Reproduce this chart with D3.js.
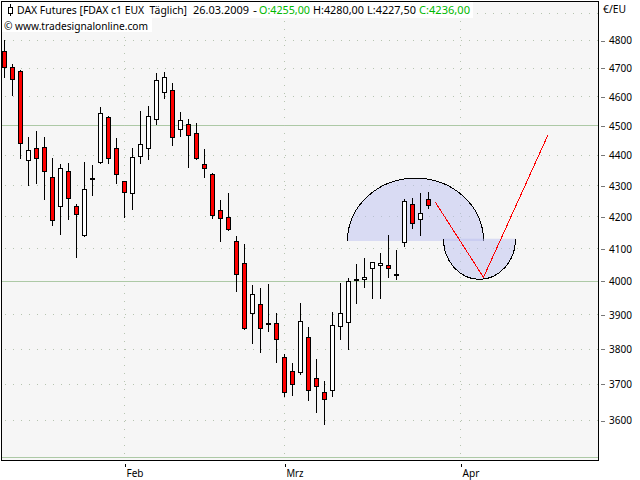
<!DOCTYPE html>
<html><head><meta charset="utf-8">
<script src="https://cdn.jsdelivr.net/npm/d3@7/dist/d3.min.js"></script>
<style>
html,body{margin:0;padding:0;background:#fff;overflow:hidden}
svg{display:block}
text{font-family:"Noto Sans",sans-serif;font-size:10.7px;fill:#000}
</style></head><body>
<script>
// Daily candles, Jan 12 2009 .. Mar 26 2009
const opens  = [4760,4703,4689,4383,4423,4427,4327,4233,4347,4233,4142,4325,4377,4528,4423,4314,4275,4396,4423,4522,4615,4622,4488,4504,4474,4370,4337,4220,4198,4123,4055,3904,3931,3873,3875,3776,3736,3733,3834,3716,3677,3683,3866,3877,4007,4006,4039,4048,4048,4022,4120,4240,4192,4255];
const highs  = [4805,4717,4696,4464,4484,4464,4393,4373,4377,4243,4380,4370,4566,4535,4460,4317,4427,4553,4570,4685,4689,4650,4549,4525,4511,4423,4344,4256,4278,4142,4116,3990,3981,3993,3907,3788,3762,3937,3866,3774,3711,3910,3996,4012,4055,4073,4058,4088,4145,4098,4259,4262,4278,4280];
const lows   = [4668,4604,4390,4301,4308,4256,4173,4145,4192,4073,4139,4269,4373,4373,4307,4198,4223,4373,4387,4504,4594,4433,4464,4360,4387,4327,4195,4123,4157,3970,3857,3816,3790,3851,3762,3666,3669,3728,3655,3622,3589,3666,3828,3799,3934,3982,3949,3949,4012,4006,4107,4164,4142,4227.5];
const closes = [4703,4661,4440,4417,4390,4347,4189,4357,4259,4208,4288,4323,4542,4390,4337,4278,4393,4437,4532,4657,4668,4460,4518,4467,4390,4357,4204,4195,4160,4021,3860,3960,3860,3871,3828,3677,3699,3881,3683,3694,3658,3869,3904,3999,4005,4012,4058,4055,4039,4020,4249,4179,4211,4236];
const priceTicks = [4900,4800,4700,4600,4500,4400,4300,4200,4100,4000,3900,3800,3700,3600,3500];
const axisLabels = [4800,4700,4600,4500,4400,4300,4200,4100,4000,3900,3800,3700,3600];
const solidLevels = [4500,4000,3500];
const monthIndex = [15,35,57];
const monthNames = ["Feb","Mrz","Apr"];
// Drawing objects (bar index, price)
const upperArc = {from:42.875,to:59.875,base:4124,peak:4325};
const lowerArc = {from:54.875,to:63.875,base:4131,peak:4006};
const zigzagIdx = [53.875,59.875,67.95];
const zigzagPrice = [4246,4012,4470];
// Header texts
const headerTexts = ["DAX Futures [FDAX c1 EUX  Täglich]","26.03.2009","-","O:4255,00","H:4280,00","L:4227,50","C:4236,00"];
const headerColors = ["#000","#000","#000","#00b800","#000","#000","#00b800"];
const headerX = [17,193,253,259,313,367,419];
const headerLen = [170,56,4,51,51,49,51];

const W=640,H=480;
const x=d3.scaleLinear().domain([0,74]).range([4.5,596.5]);
const y=d3.scaleLog().domain([3600,4800]).range([420.5,40.5]);
const py=v=>Math.round(y(v)-0.5)+0.5;
const svg=d3.select("body").append("svg").attr("width",W).attr("height",H);
const L=1.5,T=1.5,R=598.5,B=460.5;
svg.append("rect").attr("x",L).attr("y",T).attr("width",R-L).attr("height",B-T).attr("fill","#f6f6f6");

// Grid
const g=svg.append("g");
g.selectAll("line.h").data(priceTicks).join("line").attr("class","h")
 .attr("x1",d=>solidLevels.includes(d)?L:L+3).attr("x2",R).attr("y1",d=>py(d)).attr("y2",d=>py(d))
 .attr("stroke",d=>solidLevels.includes(d)?"#adc9a6":"#b6c4b0")
 .attr("stroke-dasharray",d=>solidLevels.includes(d)?null:"1 7")
 .attr("shape-rendering","crispEdges");
g.selectAll("line.v").data(monthIndex).join("line").attr("class","v")
 .attr("x1",d=>x(d)).attr("x2",d=>x(d)).attr("y1",T+3).attr("y2",B)
 .attr("stroke","#b6c4b0").attr("stroke-dasharray","1 7").attr("shape-rendering","crispEdges");

// Half-ellipses
function arcPath(a,sweep){
  const x0=x(a.from),x1=x(a.to),yb=y(a.base),yp=y(a.peak);
  return `M${x0},${yb}A${(x1-x0)/2},${Math.abs(yb-yp)} 0 0 ${sweep} ${x1},${yb}`;
}
[[upperArc,1],[lowerArc,0]].forEach(([a,s])=>{
  const p=arcPath(a,s);
  svg.append("path").attr("d",p+"Z").attr("fill","#bcc0f0").attr("fill-opacity",.5);
  svg.append("path").attr("d",p).attr("fill","none").attr("stroke","#000").attr("stroke-width",1).attr("shape-rendering","crispEdges");
});

// Candles
const c=svg.append("g").selectAll("g").data(opens.map((o,i)=>({i,o,h:highs[i],l:lows[i],c:closes[i]}))).join("g");
c.append("line").attr("x1",d=>x(d.i)).attr("x2",d=>x(d.i)).attr("y1",d=>py(d.h)).attr("y2",d=>py(d.l))
 .attr("stroke","#000").attr("shape-rendering","crispEdges");
c.append("rect").attr("x",d=>x(d.i)-2).attr("width",4)
 .attr("y",d=>py(Math.max(d.o,d.c)))
 .attr("height",d=>Math.max(1,py(Math.min(d.o,d.c))-py(Math.max(d.o,d.c))))
 .attr("fill",d=>d.c<d.o?"#ff0000":"#ffffff").attr("stroke","#000").attr("shape-rendering","crispEdges");

// Red zigzag
svg.append("path").attr("d",d3.line().x(d=>x(d)).y((d,i)=>y(zigzagPrice[i]))(zigzagIdx))
 .attr("fill","none").attr("stroke","#ff0000").attr("shape-rendering","crispEdges");

// Frame
svg.append("rect").attr("x",L).attr("y",T).attr("width",R-L).attr("height",B-T).attr("fill","none").attr("stroke","#000").attr("shape-rendering","crispEdges");

// Axes
const ya=svg.append("g").attr("transform",`translate(${R+2.5},0)`)
 .call(d3.axisRight(y).tickValues(axisLabels).tickFormat(d3.format("d")).tickSize(4).tickPadding(4));
ya.select(".domain").remove();
ya.selectAll("line").attr("stroke","#777").attr("shape-rendering","crispEdges");
ya.selectAll("text").attr("fill","#000").attr("textLength",23).attr("lengthAdjust","spacingAndGlyphs");
const xa=svg.append("g").attr("transform",`translate(0,${B+3.5})`)
 .call(d3.axisBottom(x).tickValues(monthIndex).tickFormat((d,i)=>monthNames[i]).tickSize(3));
xa.select(".domain").remove();
xa.selectAll("line").attr("stroke","#000").attr("shape-rendering","crispEdges");
xa.selectAll("text").attr("text-anchor","start").attr("x",1.5).attr("y",5).attr("dy",".71em")
  .attr("textLength",17).attr("lengthAdjust","spacingAndGlyphs");
svg.append("text").attr("x",603).attr("y",13).attr("textLength",23).attr("lengthAdjust","spacingAndGlyphs").text("€/EU");

// Header
svg.append("rect").attr("x",2).attr("y",2).attr("width",471).attr("height",16).attr("fill","#fff");
svg.append("rect").attr("x",2).attr("y",18).attr("width",150).attr("height",14).attr("fill","#fff");
svg.selectAll("text.hd").data(headerTexts).join("text").attr("class","hd")
 .attr("x",(d,i)=>headerX[i]).attr("y",14).attr("fill",(d,i)=>headerColors[i]).style("fill",(d,i)=>headerColors[i])
 .attr("textLength",(d,i)=>headerLen[i]).attr("lengthAdjust","spacingAndGlyphs").attr("xml:space","preserve").text(d=>d);
svg.append("text").attr("x",4).attr("y",30).attr("textLength",144).attr("lengthAdjust","spacingAndGlyphs").text("© www.tradesignalonline.com");
svg.append("line").attr("x1",10.5).attr("x2",10.5).attr("y1",4).attr("y2",16).attr("stroke","#000").attr("shape-rendering","crispEdges");
svg.append("rect").attr("x",8.5).attr("y",7.5).attr("width",4).attr("height",6).attr("fill","#fff").attr("stroke","#000").attr("shape-rendering","crispEdges");
</script>
</body></html>
